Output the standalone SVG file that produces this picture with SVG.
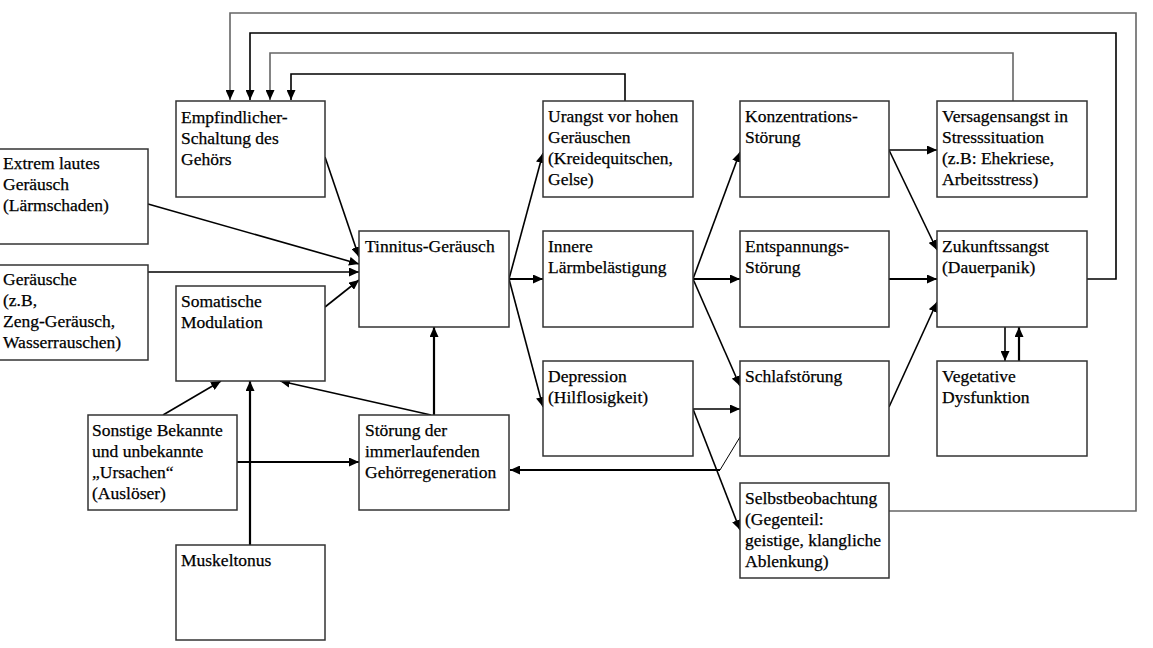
<svg xmlns="http://www.w3.org/2000/svg" width="1153" height="648" viewBox="0 0 1153 648">
<style>
.box{fill:#fff;stroke:#333;stroke-width:1.5}
.t{font-family:"Liberation Serif","Times New Roman",serif;font-size:17.5px;fill:#000;stroke:#000;stroke-width:0.25}
.c{fill:none;stroke:#000;stroke-width:1.6}
.g{fill:none;stroke:#666;stroke-width:1.6}
.b{fill:none;stroke:#000;stroke-width:2.2}
.th{fill:none;stroke:#000;stroke-width:1}
</style>
<defs>
<marker id="a" markerUnits="userSpaceOnUse" markerWidth="10" markerHeight="9" refX="10" refY="4.5" orient="auto">
<path d="M0,0 L10,4.5 L0,9 z" fill="#000"/>
</marker>
</defs>
<rect width="1153" height="648" fill="#fff"/>
<g id="connectors">
<polyline class="g" points="889,511 1136,511 1136,13 230,13 230,100" marker-end="url(#a)"/>
<polyline class="c" points="1087,279 1116,279 1116,33 250,33 250,100" marker-end="url(#a)"/>
<polyline class="g" points="1013,101 1013,53 270,53 270,100" marker-end="url(#a)"/>
<polyline class="c" points="625,101 625,74 291,74 291,100" marker-end="url(#a)"/>
<line class="c" x1="325" y1="157" x2="359" y2="257" marker-end="url(#a)"/>
<line class="c" x1="148" y1="204" x2="359" y2="264" marker-end="url(#a)"/>
<line class="c" x1="148" y1="272" x2="359" y2="272" marker-end="url(#a)"/>
<line class="c" x1="325" y1="307" x2="359" y2="280" marker-end="url(#a)"/>
<line class="c" x1="163" y1="415" x2="221" y2="381" marker-end="url(#a)"/>
<line class="b" x1="250" y1="545" x2="250" y2="381" marker-end="url(#a)"/>
<line class="b" x1="237" y1="462" x2="359" y2="462" marker-end="url(#a)"/>
<line class="c" x1="431" y1="415" x2="280" y2="381" marker-end="url(#a)"/>
<line class="b" x1="434" y1="415" x2="434" y2="327" marker-end="url(#a)"/>
<line class="c" x1="509" y1="279" x2="543" y2="153" marker-end="url(#a)"/>
<line class="b" x1="509" y1="279" x2="543" y2="279" marker-end="url(#a)"/>
<line class="c" x1="509" y1="279" x2="543" y2="407" marker-end="url(#a)"/>
<line class="c" x1="693" y1="279" x2="740" y2="152" marker-end="url(#a)"/>
<line class="b" x1="693" y1="279" x2="740" y2="279" marker-end="url(#a)"/>
<line class="c" x1="693" y1="279" x2="740" y2="386" marker-end="url(#a)"/>
<line class="c" x1="693" y1="409" x2="740" y2="409" marker-end="url(#a)"/>
<line class="c" x1="693" y1="409" x2="740" y2="530" marker-end="url(#a)"/>
<line class="th" x1="740" y1="437" x2="720" y2="470"/>
<line class="b" x1="720" y1="470" x2="510" y2="470" marker-end="url(#a)"/>
<line class="c" x1="889" y1="150" x2="937" y2="150" marker-end="url(#a)"/>
<line class="c" x1="889" y1="150" x2="937" y2="250" marker-end="url(#a)"/>
<line class="b" x1="889" y1="279" x2="937" y2="279" marker-end="url(#a)"/>
<line class="c" x1="889" y1="407" x2="937" y2="302" marker-end="url(#a)"/>
<line class="c" x1="1005" y1="327" x2="1005" y2="361" marker-end="url(#a)"/>
<line class="b" x1="1019" y1="361" x2="1019" y2="327" marker-end="url(#a)"/>
</g>
<g id="n-empfindlicher"><rect class="box" x="176" y="101" width="149" height="96"/><text class="t" x="181" y="123">Empfindlicher-</text><text class="t" x="181" y="144">Schaltung des</text><text class="t" x="181" y="165">Gehörs</text></g>
<g id="n-extrem"><rect class="box" x="-2" y="149" width="150" height="95"/><text class="t" x="3" y="169">Extrem lautes</text><text class="t" x="3" y="190">Geräusch</text><text class="t" x="3" y="211">(Lärmschaden)</text></g>
<g id="n-geraeusche"><rect class="box" x="-2" y="265" width="150" height="95"/><text class="t" x="3" y="285">Geräusche</text><text class="t" x="3" y="306">(z.B,</text><text class="t" x="3" y="327">Zeng-Geräusch,</text><text class="t" x="3" y="348">Wasserrauschen)</text></g>
<g id="n-somatische"><rect class="box" x="176" y="286" width="149" height="95"/><text class="t" x="181" y="307">Somatische</text><text class="t" x="181" y="328">Modulation</text></g>
<g id="n-sonstige"><rect class="box" x="88" y="415" width="149" height="95"/><text class="t" x="92" y="436">Sonstige Bekannte</text><text class="t" x="92" y="457">und unbekannte</text><text class="t" x="92" y="478">„Ursachen“</text><text class="t" x="92" y="499">(Auslöser)</text></g>
<g id="n-muskeltonus"><rect class="box" x="176" y="545" width="149" height="95"/><text class="t" x="181" y="566">Muskeltonus</text></g>
<g id="n-tinnitus"><rect class="box" x="359" y="231" width="150" height="96"/><text class="t" x="365" y="252">Tinnitus-Geräusch</text></g>
<g id="n-stoerung"><rect class="box" x="359" y="415" width="150" height="95"/><text class="t" x="365" y="436">Störung der</text><text class="t" x="365" y="457">immerlaufenden</text><text class="t" x="365" y="478">Gehörregeneration</text></g>
<g id="n-urangst"><rect class="box" x="543" y="101" width="150" height="96"/><text class="t" x="548" y="122">Urangst vor hohen</text><text class="t" x="548" y="143">Geräuschen</text><text class="t" x="548" y="164">(Kreidequitschen,</text><text class="t" x="548" y="185">Gelse)</text></g>
<g id="n-innere"><rect class="box" x="543" y="231" width="150" height="96"/><text class="t" x="548" y="252">Innere</text><text class="t" x="548" y="273">Lärmbelästigung</text></g>
<g id="n-depression"><rect class="box" x="543" y="361" width="150" height="95"/><text class="t" x="548" y="382">Depression</text><text class="t" x="548" y="403">(Hilflosigkeit)</text></g>
<g id="n-konzentration"><rect class="box" x="740" y="101" width="149" height="96"/><text class="t" x="745" y="122">Konzentrations-</text><text class="t" x="745" y="143">Störung</text></g>
<g id="n-entspannung"><rect class="box" x="740" y="231" width="149" height="96"/><text class="t" x="745" y="252">Entspannungs-</text><text class="t" x="745" y="273">Störung</text></g>
<g id="n-schlaf"><rect class="box" x="740" y="361" width="149" height="95"/><text class="t" x="745" y="382">Schlafstörung</text></g>
<g id="n-selbst"><rect class="box" x="740" y="483" width="149" height="95"/><text class="t" x="745" y="504">Selbstbeobachtung</text><text class="t" x="745" y="525">(Gegenteil:</text><text class="t" x="745" y="546">geistige, klangliche</text><text class="t" x="745" y="567">Ablenkung)</text></g>
<g id="n-versagen"><rect class="box" x="937" y="101" width="150" height="96"/><text class="t" x="942" y="122">Versagensangst in</text><text class="t" x="942" y="143">Stresssituation</text><text class="t" x="942" y="164">(z.B: Ehekriese,</text><text class="t" x="942" y="185">Arbeitsstress)</text></g>
<g id="n-zukunft"><rect class="box" x="937" y="231" width="150" height="96"/><text class="t" x="942" y="252">Zukunftssangst</text><text class="t" x="942" y="273">(Dauerpanik)</text></g>
<g id="n-vegetativ"><rect class="box" x="937" y="361" width="150" height="95"/><text class="t" x="942" y="382">Vegetative</text><text class="t" x="942" y="403">Dysfunktion</text></g>
</svg>
